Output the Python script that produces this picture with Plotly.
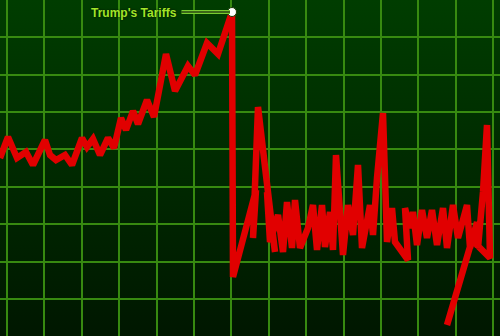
import base64
import plotly.graph_objects as go

# Pre-tariff market line (time units, index level)
x_left = [0, 8, 17, 26, 33, 45, 50, 56, 65, 72, 82, 87, 93, 100, 108, 114, 121, 126,
          133, 138, 147, 154, 166, 175, 188, 195, 207, 218, 232]
y_left = [178, 199, 178, 184, 171, 196, 181, 176, 181, 171, 198, 189, 197, 181, 198, 188, 218, 206,
          225, 212, 236, 219, 282, 245, 270, 261, 293, 282, 324]

# Post-tariff crash (signature scribble)
x_sig = [232, 233, 256, 253, 258, 275, 267, 270, 278, 283, 287, 292, 295, 300, 308, 313, 317,
         322, 325, 330, 333, 336, 343, 348, 353, 358, 362, 370, 373, 377, 383, 387, 392, 395,
         408, 405, 410, 413, 417, 422, 427, 432, 437, 443, 447, 453, 458, 467, 470, 477, 478,
         483, 487, 490, 472, 447]
y_sig = [324, 59, 146, 98, 229, 84, 144, 94, 121, 84, 134, 88, 136, 88, 108, 131, 86,
         131, 89, 124, 86, 181, 81, 131, 101, 171, 88, 131, 101, 158, 223, 94, 128, 94,
         76, 128, 108, 124, 91, 126, 98, 126, 91, 128, 88, 131, 98, 131, 88, 114, 88,
         144, 211, 78, 96, 11]

label = "Trump's Tariffs"

svg = ('<svg xmlns="http://www.w3.org/2000/svg" width="10" height="100" preserveAspectRatio="none">'
       '<defs><linearGradient id="g" x1="0" y1="0" x2="0" y2="1">'
       '<stop offset="0" stop-color="#003d00"/><stop offset="1" stop-color="#001700"/>'
       '</linearGradient></defs><rect width="10" height="100" fill="url(#g)"/></svg>')
bg_src = "data:image/svg+xml;base64," + base64.b64encode(svg.encode()).decode()

red = "#e10000"
fig = go.Figure()
fig.add_trace(go.Scatter(x=x_left, y=y_left, mode="lines",
                         line=dict(color=red, width=6.5), hoverinfo="skip"))
fig.add_trace(go.Scatter(x=x_sig, y=y_sig, mode="lines",
                         line=dict(color=red, width=6.5), hoverinfo="skip"))

fig.add_annotation(x=x_left[-1], y=y_left[-1], xref="x", yref="y", text="",
                   showarrow=True, arrowhead=0, arrowwidth=4, arrowcolor="#78cc30",
                   ax=-52, ay=0, standoff=2)
fig.add_annotation(x=x_left[-1], y=y_left[-1], xref="x", yref="y", text="",
                   showarrow=True, arrowhead=0, arrowwidth=1, arrowcolor="#000000",
                   ax=-52, ay=0, standoff=2)
fig.add_annotation(x=x_left[-1], y=y_left[-1], xref="x", yref="y", text="<b>" + label + "</b>",
                   showarrow=False, xanchor="right", xshift=-53, yshift=-1,
                   font=dict(family="Liberation Sans, Arial, sans-serif",
                             size=12, color="#a2e628", shadow="0px 0px 2px #000800"))

fig.add_trace(go.Scatter(x=[x_left[-1]], y=[y_left[-1]], mode="markers",
                         marker=dict(color="white", size=9, line=dict(color="#1a3a00", width=1)),
                         hoverinfo="skip"))

fig.add_layout_image(dict(source=bg_src, xref="paper", yref="paper", x=0, y=1,
                          sizex=1, sizey=1, sizing="stretch", layer="below",
                          xanchor="left", yanchor="top"))

grid = "#378a10"
fig.update_layout(
    width=500, height=336, margin=dict(l=0, r=0, t=0, b=0),
    paper_bgcolor="#002a00", plot_bgcolor="#002a00", showlegend=False,
    xaxis=dict(range=[0, 500], showticklabels=False, showgrid=True, gridcolor=grid,
               gridwidth=1.8, tick0=7, dtick=37.4, zeroline=False, showline=False, fixedrange=True),
    yaxis=dict(range=[0, 336], showticklabels=False, showgrid=True, gridcolor=grid,
               gridwidth=1.8, tick0=37, dtick=37.4, zeroline=False, showline=False, fixedrange=True),
)
fig.write_html("out.html")
